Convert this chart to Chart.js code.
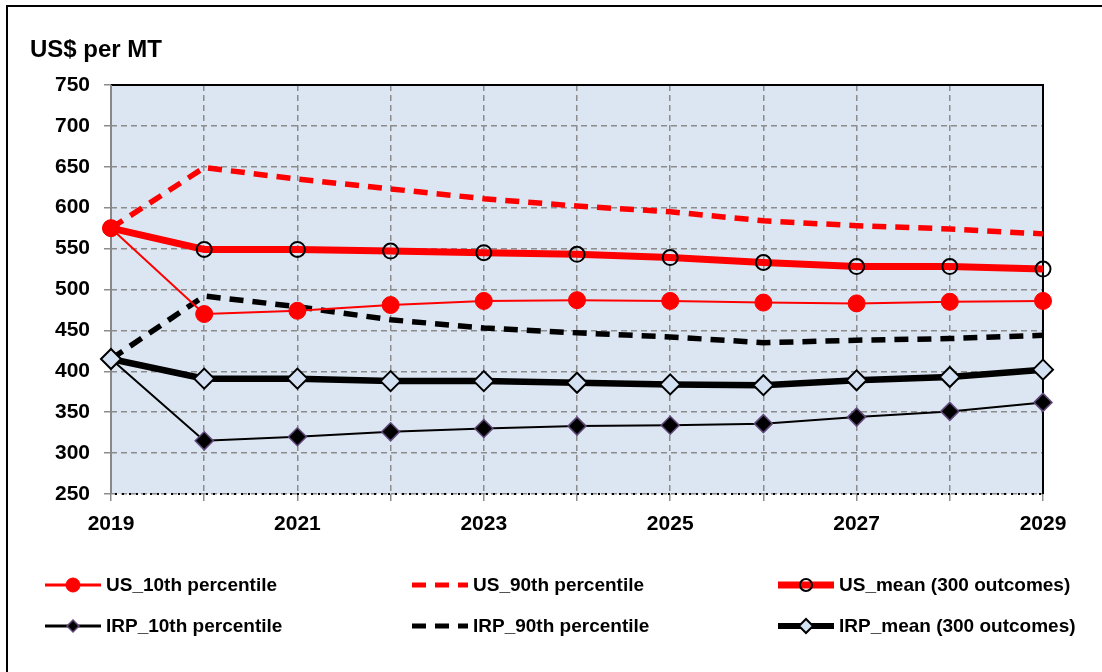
<!DOCTYPE html>
<html>
<head>
<meta charset="utf-8">
<script src="https://cdn.jsdelivr.net/npm/chart.js@4/dist/chart.umd.min.js"></script>
<style>
  html, body { margin: 0; padding: 0; background: #fff; }
  #wrap { position: relative; width: 1102px; height: 672px; }
</style>
</head>
<body>
<div id="wrap"><canvas id="chart" width="1102" height="672"></canvas></div>
<script>
// data
const years = ['2019', '2020', '2021', '2022', '2023', '2024', '2025', '2026', '2027', '2028', '2029'];
const us10 = [575, 470, 474, 481, 486, 487, 486, 484, 483, 485, 486];
const us90 = [575, 649, 635, 623, 611, 602, 595, 584, 578, 574, 568];
const usMean = [575, 549, 549, 547, 545, 543, 539, 533, 528, 528, 525];
const irp10 = [415, 315, 320, 326, 330, 333, 334, 336, 344, 351, 362];
const irp90 = [415, 492, 479, 463, 453, 447, 442, 435, 438, 440, 444];
const irpMean = [415, 391, 391, 388, 388, 386, 384, 383, 389, 393, 402];
const yTicks = [250, 300, 350, 400, 450, 500, 550, 600, 650, 700, 750];

const FONT = '"Liberation Sans", Arial, sans-serif';

// plot background + frame lines
const frame = {
  id: 'frame',
  beforeDraw(chart) {
    const { ctx, chartArea: a } = chart;
    ctx.save();
    ctx.fillStyle = '#fff';
    ctx.fillRect(0, 0, chart.width, chart.height);
    ctx.fillStyle = '#DCE6F2';
    ctx.fillRect(a.left, a.top, a.right - a.left, a.bottom - a.top);
    ctx.restore();
  },
  beforeDatasetsDraw(chart) {
    const { ctx, chartArea: a } = chart;
    ctx.save();
    ctx.strokeStyle = '#000';
    ctx.lineWidth = 2;
    ctx.beginPath();
    ctx.moveTo(a.left, a.top); ctx.lineTo(a.right, a.top); ctx.lineTo(a.right, a.bottom);
    ctx.stroke();
    ctx.strokeStyle = '#888';
    ctx.beginPath();
    ctx.moveTo(a.left, a.top); ctx.lineTo(a.left, a.bottom);
    ctx.stroke();
    // dotted base line
    ctx.strokeStyle = '#000';
    ctx.setLineDash([2, 5]);
    ctx.beginPath();
    ctx.moveTo(a.left + 4, a.bottom); ctx.lineTo(a.right, a.bottom);
    ctx.stroke();
    ctx.restore();
  },
  afterDatasetsDraw(chart) {
    const { ctx } = chart;
    ctx.save();
    // outer box
    ctx.strokeStyle = '#000';
    ctx.lineWidth = 2;
    ctx.strokeRect(7, 6, chart.width + 20, chart.height + 20);
    // title
    ctx.fillStyle = '#000';
    ctx.font = 'bold 24px ' + FONT;
    ctx.textBaseline = 'alphabetic';
    ctx.fillText('US$ per MT', 30, 57);
    ctx.restore();
  }
};

// legend in two rows of three, drawn from the dataset styles
const legendRows = {
  id: 'legendRows',
  afterDraw(chart) {
    const { ctx } = chart;
    const cols = [45, 412, 778];
    const rows = [585, 626];
    chart.data.datasets.forEach((ds, i) => {
      const x = cols[i % 3], y = rows[Math.floor(i / 3)];
      ctx.save();
      ctx.strokeStyle = ds.borderColor;
      ctx.lineWidth = ds.legendWidth;
      ctx.setLineDash(ds.borderDash || []);
      ctx.beginPath();
      ctx.moveTo(x, y); ctx.lineTo(x + 56, y);
      ctx.stroke();
      ctx.setLineDash([]);
      if (ds.pointRadius > 0) {
        ctx.fillStyle = ds.pointBackgroundColor;
        ctx.strokeStyle = ds.pointBorderColor;
        ctx.lineWidth = ds.pointBorderWidth;
        Chart.helpers.drawPoint(ctx, {
          pointStyle: ds.pointStyle,
          radius: ds.legendRadius,
          borderWidth: ds.pointBorderWidth
        }, x + 28, y);
      }
      ctx.fillStyle = '#000';
      ctx.font = 'bold 19px ' + FONT;
      ctx.textBaseline = 'middle';
      ctx.fillText(ds.label, x + 61, y + 1);
      ctx.restore();
    });
  }
};

const ctx = document.getElementById('chart').getContext('2d');
new Chart(ctx, {
  type: 'line',
  data: {
    labels: years,
    datasets: [
      { label: 'US_10th percentile', data: us10, borderColor: '#FF0000', borderWidth: 2, legendWidth: 3, legendRadius: 7,
        pointStyle: 'circle', pointRadius: 8.5, pointBackgroundColor: '#FF0000', pointBorderColor: '#FF0000', pointBorderWidth: 1, order: 0 },
      { label: 'US_90th percentile', data: us90, borderColor: '#FF0000', borderWidth: 5.5, legendWidth: 5, borderDash: [14, 9],
        pointRadius: 0, order: 5 },
      { label: 'US_mean (300 outcomes)', data: usMean, borderColor: '#FF0000', borderWidth: 7, legendWidth: 7, legendRadius: 6,
        pointStyle: 'circle', pointRadius: 7.5, pointBackgroundColor: 'rgba(0,0,0,0)', pointBorderColor: '#000', pointBorderWidth: 2, order: 2 },
      { label: 'IRP_10th percentile', data: irp10, borderColor: '#000', borderWidth: 2, legendWidth: 3, legendRadius: 6,
        pointStyle: 'rectRot', pointRadius: 9, pointBackgroundColor: '#000', pointBorderColor: '#60497A', pointBorderWidth: 1.5, order: 3 },
      { label: 'IRP_90th percentile', data: irp90, borderColor: '#000', borderWidth: 5.5, legendWidth: 5, borderDash: [14, 9],
        pointRadius: 0, order: 4 },
      { label: 'IRP_mean (300 outcomes)', data: irpMean, borderColor: '#000', borderWidth: 6.5, legendWidth: 6, legendRadius: 7,
        pointStyle: 'rectRot', pointRadius: 10, pointBackgroundColor: '#D3E1F2', pointBorderColor: '#000', pointBorderWidth: 2, order: 1 }
    ]
  },
  options: {
    responsive: false,
    animation: false,
    layout: { padding: { top: 85, right: 59, left: 0, bottom: 0 } },
    plugins: { legend: { display: false }, tooltip: { enabled: false } },
    elements: { line: { tension: 0 } },
    scales: {
      x: {
        type: 'category',
        offset: false,
        afterFit(scale) { scale.height = 178; },
        grid: { color: '#8C8C8C', lineWidth: 1.5, drawTicks: true, tickLength: 7, tickColor: '#8C8C8C', tickBorderDash: [] },
        border: { display: false, dash: [6, 4] },
        ticks: {
          autoSkip: false, maxRotation: 0, padding: 11, color: '#000',
          font: { family: FONT, size: 21, weight: 'bold' },
          callback(v, i) { return i % 2 === 0 ? years[i] : ''; }
        }
      },
      y: {
        min: 250, max: 750,
        afterFit(scale) { scale.width = 111; },
        afterBuildTicks(scale) { scale.ticks = yTicks.map(v => ({ value: v })); },
        grid: { color: '#8C8C8C', lineWidth: 1.5, drawTicks: true, tickLength: 7, tickColor: '#8C8C8C', tickBorderDash: [] },
        border: { display: false, dash: [6, 4] },
        ticks: { padding: 14, color: '#000', font: { family: FONT, size: 21, weight: 'bold' } }
      }
    }
  },
  plugins: [frame, legendRows]
});
</script>
</body>
</html>
